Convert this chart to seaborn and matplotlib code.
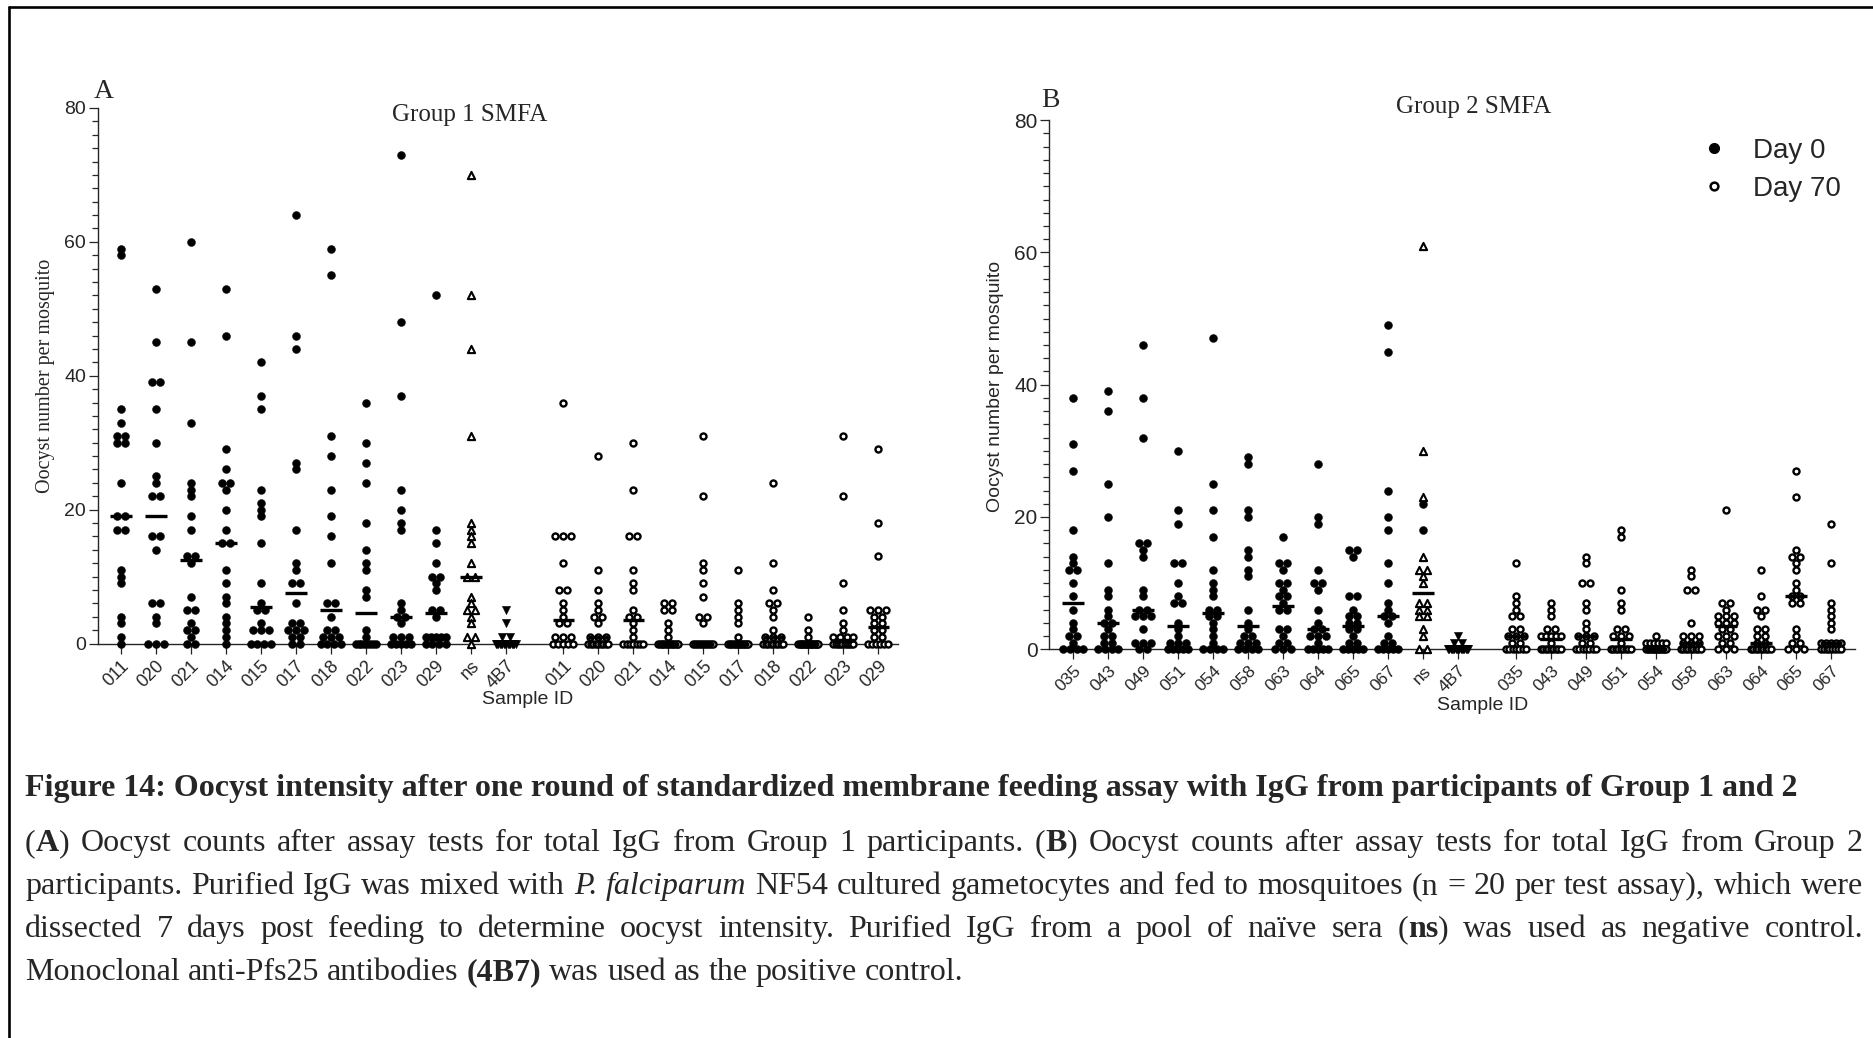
import re
import numpy as np
import pandas as pd
import matplotlib
matplotlib.use("Agg")
import matplotlib.pyplot as plt
from matplotlib.lines import Line2D
from matplotlib.ticker import MultipleLocator
import seaborn as sns

# ---------------- data (oocysts per mosquito) ----------------
g1_ids = ["011", "020", "021", "014", "015", "017", "018", "022", "023", "029"]
g2_ids = ["035", "043", "049", "051", "054", "058", "063", "064", "065", "067"]

g1_day0 = [
    [59, 58, 35, 33, 31, 31, 30, 30, 24, 19, 19, 17, 17, 11, 10, 9, 4, 3, 1, 0],
    [53, 45, 39, 39, 35, 30, 25, 24, 22, 22, 16, 16, 14, 6, 6, 4, 3, 0, 0, 0],
    [60, 45, 33, 24, 23, 22, 19, 17, 13, 13, 12, 7, 5, 5, 3, 2, 2, 1, 0, 0],
    [53, 46, 29, 26, 24, 24, 23, 20, 17, 15, 15, 11, 9, 7, 6, 4, 3, 2, 1, 0],
    [42, 37, 35, 23, 21, 20, 19, 15, 9, 6, 5, 5, 3, 2, 2, 2, 0, 0, 0, 0],
    [64, 46, 44, 27, 26, 17, 12, 11, 9, 9, 6, 3, 3, 2, 2, 2, 1, 1, 0, 0],
    [59, 55, 31, 28, 23, 19, 16, 12, 6, 6, 4, 2, 2, 1, 1, 1, 0, 0, 0, 0],
    [36, 30, 27, 24, 18, 14, 12, 11, 8, 7, 2, 1, 0, 0, 0, 0, 0, 0, 0, 0],
    [73, 48, 37, 23, 20, 18, 17, 6, 5, 4, 4, 3, 1, 1, 1, 0, 0, 0, 0, 0],
    [52, 17, 15, 12, 10, 10, 9, 8, 5, 5, 4, 1, 1, 1, 1, 1, 0, 0, 0, 0],
]
g1_day70 = [
    [36, 16, 16, 16, 12, 8, 8, 6, 5, 4, 3, 3, 1, 1, 1, 0, 0, 0, 0, 0],
    [28, 11, 8, 6, 5, 4, 4, 3, 1, 1, 1, 0, 0, 0, 0, 0, 0, 0, 0, 0],
    [30, 23, 16, 16, 11, 9, 8, 5, 4, 4, 3, 2, 1, 0, 0, 0, 0, 0, 0, 0],
    [6, 6, 5, 5, 3, 2, 1, 0, 0, 0, 0, 0, 0, 0, 0, 0, 0, 0, 0, 0],
    [31, 22, 12, 11, 9, 7, 4, 4, 3, 0, 0, 0, 0, 0, 0, 0, 0, 0, 0, 0],
    [11, 6, 5, 4, 3, 1, 0, 0, 0, 0, 0, 0, 0, 0, 0, 0, 0, 0, 0, 0],
    [24, 12, 8, 6, 6, 5, 4, 2, 1, 1, 1, 0, 0, 0, 0, 0, 0, 0, 0, 0],
    [4, 2, 1, 0, 0, 0, 0, 0, 0, 0, 0, 0, 0, 0, 0, 0, 0, 0, 0, 0],
    [31, 22, 9, 5, 3, 2, 1, 1, 1, 1, 0, 0, 0, 0, 0, 0, 0, 0, 0, 0],
    [29, 18, 13, 5, 5, 5, 4, 4, 3, 3, 2, 2, 1, 1, 0, 0, 0, 0, 0, 0],
]
g1_ns = [70, 52, 44, 31, 18, 17, 16, 15, 12, 10, 10, 7, 6, 5, 5, 4, 3, 1, 1, 0]
g1_4b7 = [5, 3, 1, 1, 0, 0, 0, 0, 0, 0, 0, 0, 0, 0, 0, 0, 0, 0, 0, 0]

g2_day0 = [
    [38, 31, 27, 18, 14, 13, 12, 12, 10, 8, 6, 4, 3, 2, 2, 1, 0, 0, 0, 0],
    [39, 36, 25, 20, 13, 9, 8, 6, 5, 4, 4, 3, 2, 2, 1, 1, 0, 0, 0, 0],
    [46, 38, 32, 16, 16, 15, 14, 9, 8, 6, 6, 5, 5, 5, 3, 1, 1, 1, 0, 0],
    [30, 21, 19, 13, 13, 10, 8, 7, 7, 4, 3, 2, 1, 1, 1, 0, 0, 0, 0, 0],
    [47, 25, 21, 17, 12, 10, 9, 8, 6, 6, 5, 5, 4, 3, 2, 1, 0, 0, 0, 0],
    [29, 28, 21, 20, 15, 14, 12, 11, 6, 4, 3, 2, 2, 1, 1, 1, 0, 0, 0, 0],
    [17, 13, 13, 12, 10, 10, 9, 8, 8, 7, 6, 6, 3, 3, 2, 1, 1, 0, 0, 0],
    [28, 20, 19, 12, 10, 10, 9, 6, 4, 3, 3, 2, 2, 2, 1, 0, 0, 0, 0, 0],
    [15, 15, 14, 8, 8, 6, 5, 5, 4, 4, 3, 3, 2, 1, 1, 0, 0, 0, 0, 0],
    [49, 45, 24, 20, 18, 13, 10, 7, 6, 5, 5, 4, 2, 1, 1, 0, 0, 0, 0, 0],
]
g2_day70 = [
    [13, 8, 7, 6, 5, 5, 3, 3, 2, 2, 2, 1, 1, 0, 0, 0, 0, 0, 0, 0],
    [7, 6, 5, 3, 3, 2, 2, 2, 2, 2, 1, 0, 0, 0, 0, 0, 0, 0, 0, 0],
    [14, 13, 10, 10, 7, 6, 4, 3, 2, 2, 2, 1, 1, 0, 0, 0, 0, 0, 0, 0],
    [18, 17, 9, 7, 6, 3, 3, 2, 2, 2, 1, 0, 0, 0, 0, 0, 0, 0, 0, 0],
    [2, 1, 1, 1, 1, 1, 1, 0, 0, 0, 0, 0, 0, 0, 0, 0, 0, 0, 0, 0],
    [12, 11, 9, 9, 4, 2, 2, 2, 1, 1, 1, 0, 0, 0, 0, 0, 0, 0, 0, 0],
    [21, 7, 7, 6, 5, 5, 5, 4, 4, 4, 3, 3, 2, 2, 2, 1, 1, 0, 0, 0],
    [12, 8, 6, 6, 5, 3, 3, 2, 2, 1, 1, 0, 0, 0, 0, 0, 0, 0, 0, 0],
    [27, 23, 15, 14, 14, 13, 12, 10, 9, 8, 8, 7, 7, 3, 2, 1, 1, 0, 0, 0],
    [19, 13, 7, 6, 5, 4, 3, 1, 1, 1, 1, 1, 0, 0, 0, 0, 0, 0, 0, 0],
]
g2_ns_tri = [61, 30, 23, 14, 12, 12, 11, 10, 7, 7, 6, 6, 5, 5, 3, 2, 0, 0]
g2_ns_dot = [22, 18]
g2_4b7 = [2, 1, 1, 0, 0, 0, 0, 0, 0, 0, 0, 0, 0, 0, 0, 0, 0, 0, 0, 0]

caption_title = ("Figure 14: Oocyst intensity after one round of standardized membrane "
                 "feeding assay with IgG from participants of Group 1 and 2")
caption_lines = [
    ("(**A**) Oocyst counts after assay tests for total IgG from Group 1 participants. "
     "(**B**) Oocyst counts after assay tests for total IgG from Group 2", True),
    ("participants. Purified IgG was mixed with _P._ _falciparum_ NF54 cultured gametocytes "
     "and fed to mosquitoes (n = 20 per test assay), which were", True),
    ("dissected 7 days post feeding to determine oocyst intensity. Purified IgG from a pool "
     "of naïve sera (**ns**) was used as negative control.", True),
    ("Monoclonal anti-Pfs25 antibodies **(4B7)** was used as the positive control.", False),
]

# ---------------- layout helpers ----------------
W, H = 1873, 1038
SANS = ["Liberation Sans", "DejaVu Sans"]
SERIF = ["Liberation Serif", "DejaVu Serif"]

sns.set_theme(style="ticks")
plt.rcParams["font.family"] = SANS
plt.rcParams["axes.linewidth"] = 1.0

GAP_START = 12.65  # position of first Day-70 category (gap after 4B7)
positions = np.r_[np.arange(12), GAP_START + np.arange(10)]


def row_offsets(vals, step=8.0, half=10.0, ppu=35.0):
    """Prism-like horizontal spreading of tied values (in category units)."""
    vals = np.asarray(vals, dtype=float)
    off = np.zeros(len(vals))
    for v in np.unique(vals):
        idx = np.flatnonzero(vals == v)
        n = len(idx)
        if n > 1:
            st = min(step, 2 * half / (n - 1))
            off[idx] = (np.arange(n) - (n - 1) / 2) * st
    return off / ppu


def build_frame(day0, ns_tri, ns_dot, b7, day70):
    rows = []
    def add(vals, pos, kind):
        offs = row_offsets(vals)
        for v, o in zip(vals, offs):
            rows.append({"x": pos + o, "y": v, "kind": kind})
    for i, vals in enumerate(day0):
        add(vals, positions[i], "d0")
    add(ns_tri, positions[10], "ns")
    if ns_dot:
        add(ns_dot, positions[10], "nsdot")
    add(b7, positions[11], "b7")
    for i, vals in enumerate(day70):
        add(vals, positions[12 + i], "d70")
    return pd.DataFrame(rows)


def medians(day0, ns_all, b7, day70):
    groups = list(day0) + [ns_all, b7] + list(day70)
    return np.array([np.median(g) for g in groups])


STYLE = {
    "d0": dict(marker="o", s=33, color="black", edgecolor="black", linewidth=0.3),
    "nsdot": dict(marker="o", s=33, color="black", edgecolor="black", linewidth=0.3),
    "d70": dict(marker="o", s=19, facecolor="white", edgecolor="black", linewidth=1.7),
    "ns": dict(marker="^", s=27, facecolor="white", edgecolor="black", linewidth=1.5),
    "b7": dict(marker="v", s=36, color="black", edgecolor="black", linewidth=0.3),
}


def draw_panel(ax, df, meds, labels, xlim, ytick_size, xtick_size):
    for kind, st in STYLE.items():
        sub = df[df["kind"] == kind]
        if sub.empty:
            continue
        sns.scatterplot(data=sub, x="x", y="y", ax=ax, legend=False,
                        clip_on=False, zorder=3, **st)
    ax.hlines(meds, positions - 0.31, positions + 0.31, colors="black",
              linewidth=2.4, zorder=4, clip_on=False)
    ax.set_xlim(*xlim)
    ax.set_ylim(0, 80)
    ax.set_yticks([0, 20, 40, 60, 80])
    ax.yaxis.set_minor_locator(MultipleLocator(2))
    ax.set_xticks(positions)
    ax.set_xticklabels(labels, rotation=45, ha="right", va="top",
                       rotation_mode="anchor", fontsize=xtick_size)
    ax.tick_params(axis="x", which="major", length=7, width=0.9, pad=3,
                   color="#222222")
    ax.tick_params(axis="y", which="major", length=6.5, width=0.9, pad=2,
                   labelsize=ytick_size)
    ax.tick_params(axis="y", which="minor", length=4.3, width=0.9)
    for t in ax.get_yticklabels():
        t.set_fontfamily(SANS)
    sns.despine(ax=ax)
    ax.set_xlabel("")
    ax.set_ylabel("")
    ax.patch.set_alpha(0)


fig = plt.figure(figsize=(W / 100, H / 100), dpi=100)
fig.patch.set_facecolor("white")

axA = fig.add_axes([97.7 / W, 1 - 643.5 / H, (898 - 97.7) / W, (643.5 - 108) / H])
axB = fig.add_axes([1049.3 / W, 1 - 649.2 / H, (1855 - 1049.3) / W, (649.2 - 120.2) / H])

labelsA = g1_ids + ["ns", "4B7"] + g1_ids
labelsB = g2_ids + ["ns", "4B7"] + g2_ids

dfA = build_frame(g1_day0, g1_ns, [], g1_4b7, g1_day70)
dfB = build_frame(g2_day0, g2_ns_tri, g2_ns_dot, g2_4b7, g2_day70)
medA = medians(g1_day0, g1_ns, g1_4b7, g1_day70)
medB = medians(g2_day0, g2_ns_tri + g2_ns_dot, g2_4b7, g2_day70)

draw_panel(axA, dfA, medA, labelsA, (-0.657, 22.21), 14, 13)
draw_panel(axB, dfB, medB, labelsB, (-0.686, 22.34), 15, 12.5)


def fx(px):
    return px / W


def fy(py):
    return 1 - py / H


# panel letters, titles, axis labels
fig.text(fx(94), fy(98), "A", family=SERIF, fontsize=20, va="baseline", ha="left")
fig.text(fx(1041), fy(107), "B", family=SERIF, fontsize=20, va="baseline", ha="left")
fig.text(fx(469.5), fy(121.5), "Group 1 SMFA", family=SERIF, fontsize=18,
         va="baseline", ha="center")
fig.text(fx(1474), fy(113.5), "Group 2 SMFA", family=SERIF, fontsize=18,
         va="baseline", ha="center")
fig.text(fx(45.5), fy(376), "Oocyst number per mosquito", family=SERIF, fontsize=14.5,
         rotation=90, va="center", ha="center")
fig.text(fx(995), fy(386), "Oocyst number per mosquito", family=SANS, fontsize=14,
         rotation=90, va="center", ha="center")
fig.text(fx(528), fy(699), "Sample ID", family=SANS, fontsize=14, va="center", ha="center")
fig.text(fx(1483), fy(705), "Sample ID", family=SANS, fontsize=14, va="center", ha="center")

# legend (panel B)
handles = [
    Line2D([], [], ls="", marker="o", markersize=7, color="black"),
    Line2D([], [], ls="", marker="o", markersize=5.6, markerfacecolor="white",
           markeredgecolor="black", markeredgewidth=1.8),
]
axB.legend(handles, ["Day 0", "Day 70"], loc="upper left",
           bbox_to_anchor=(fx(1700), fy(138)), bbox_transform=fig.transFigure,
           frameon=False, handlelength=1.0, handletextpad=0.9,
           labelspacing=0.42, borderpad=0, borderaxespad=0,
           prop={"family": SANS, "size": 20})

# frame lines (top and left)
fig.add_artist(Line2D([fx(8.5), 1], [fy(7), fy(7)], color="black", lw=1.9,
                      transform=fig.transFigure))
fig.add_artist(Line2D([fx(8.5), fx(8.5)], [fy(7), 0], color="black", lw=1.9,
                      transform=fig.transFigure))

# ---------------- caption ----------------
CAP_SIZE = 23
renderer = fig.canvas.get_renderer()


def seg_props(kind):
    p = dict(family=SERIF, fontsize=CAP_SIZE)
    if kind == "b":
        p["weight"] = "bold"
    elif kind == "i":
        p["style"] = "italic"
    return p


def parse_word(word):
    segs = []
    for piece in re.split(r"(\*\*.+?\*\*|_.+?_)", word):
        if not piece:
            continue
        if piece.startswith("**"):
            segs.append((piece[2:-2], "b"))
        elif piece.startswith("_") and piece.endswith("_") and len(piece) > 1:
            segs.append((piece[1:-1], "i"))
        else:
            segs.append((piece, "n"))
    return segs


def text_width(s, kind):
    t = fig.text(0, 0, s, **seg_props(kind))
    w = t.get_window_extent(renderer).width
    t.remove()
    return w


space_w = text_width("a a", "n") - text_width("aa", "n")

X0, X1 = 25, 1863
fig.text(fx(X0), fy(796), caption_title, family=SERIF, fontsize=CAP_SIZE,
         weight="bold", va="baseline", ha="left")

baselines = [851, 894, 937, 980]
for (line, justify), base in zip(caption_lines, baselines):
    words = [parse_word(w) for w in line.split(" ")]
    widths = [[text_width(s, k) for s, k in w] for w in words]
    total = sum(sum(ws) for ws in widths)
    gap = (X1 - X0 - total) / (len(words) - 1) if justify else space_w
    x = X0
    for segs, ws in zip(words, widths):
        for (s, k), w in zip(segs, ws):
            fig.text(fx(x), fy(base), s, va="baseline", ha="left", **seg_props(k))
            x += w
        x += gap

fig.savefig("out.png", dpi=100, facecolor="white")
